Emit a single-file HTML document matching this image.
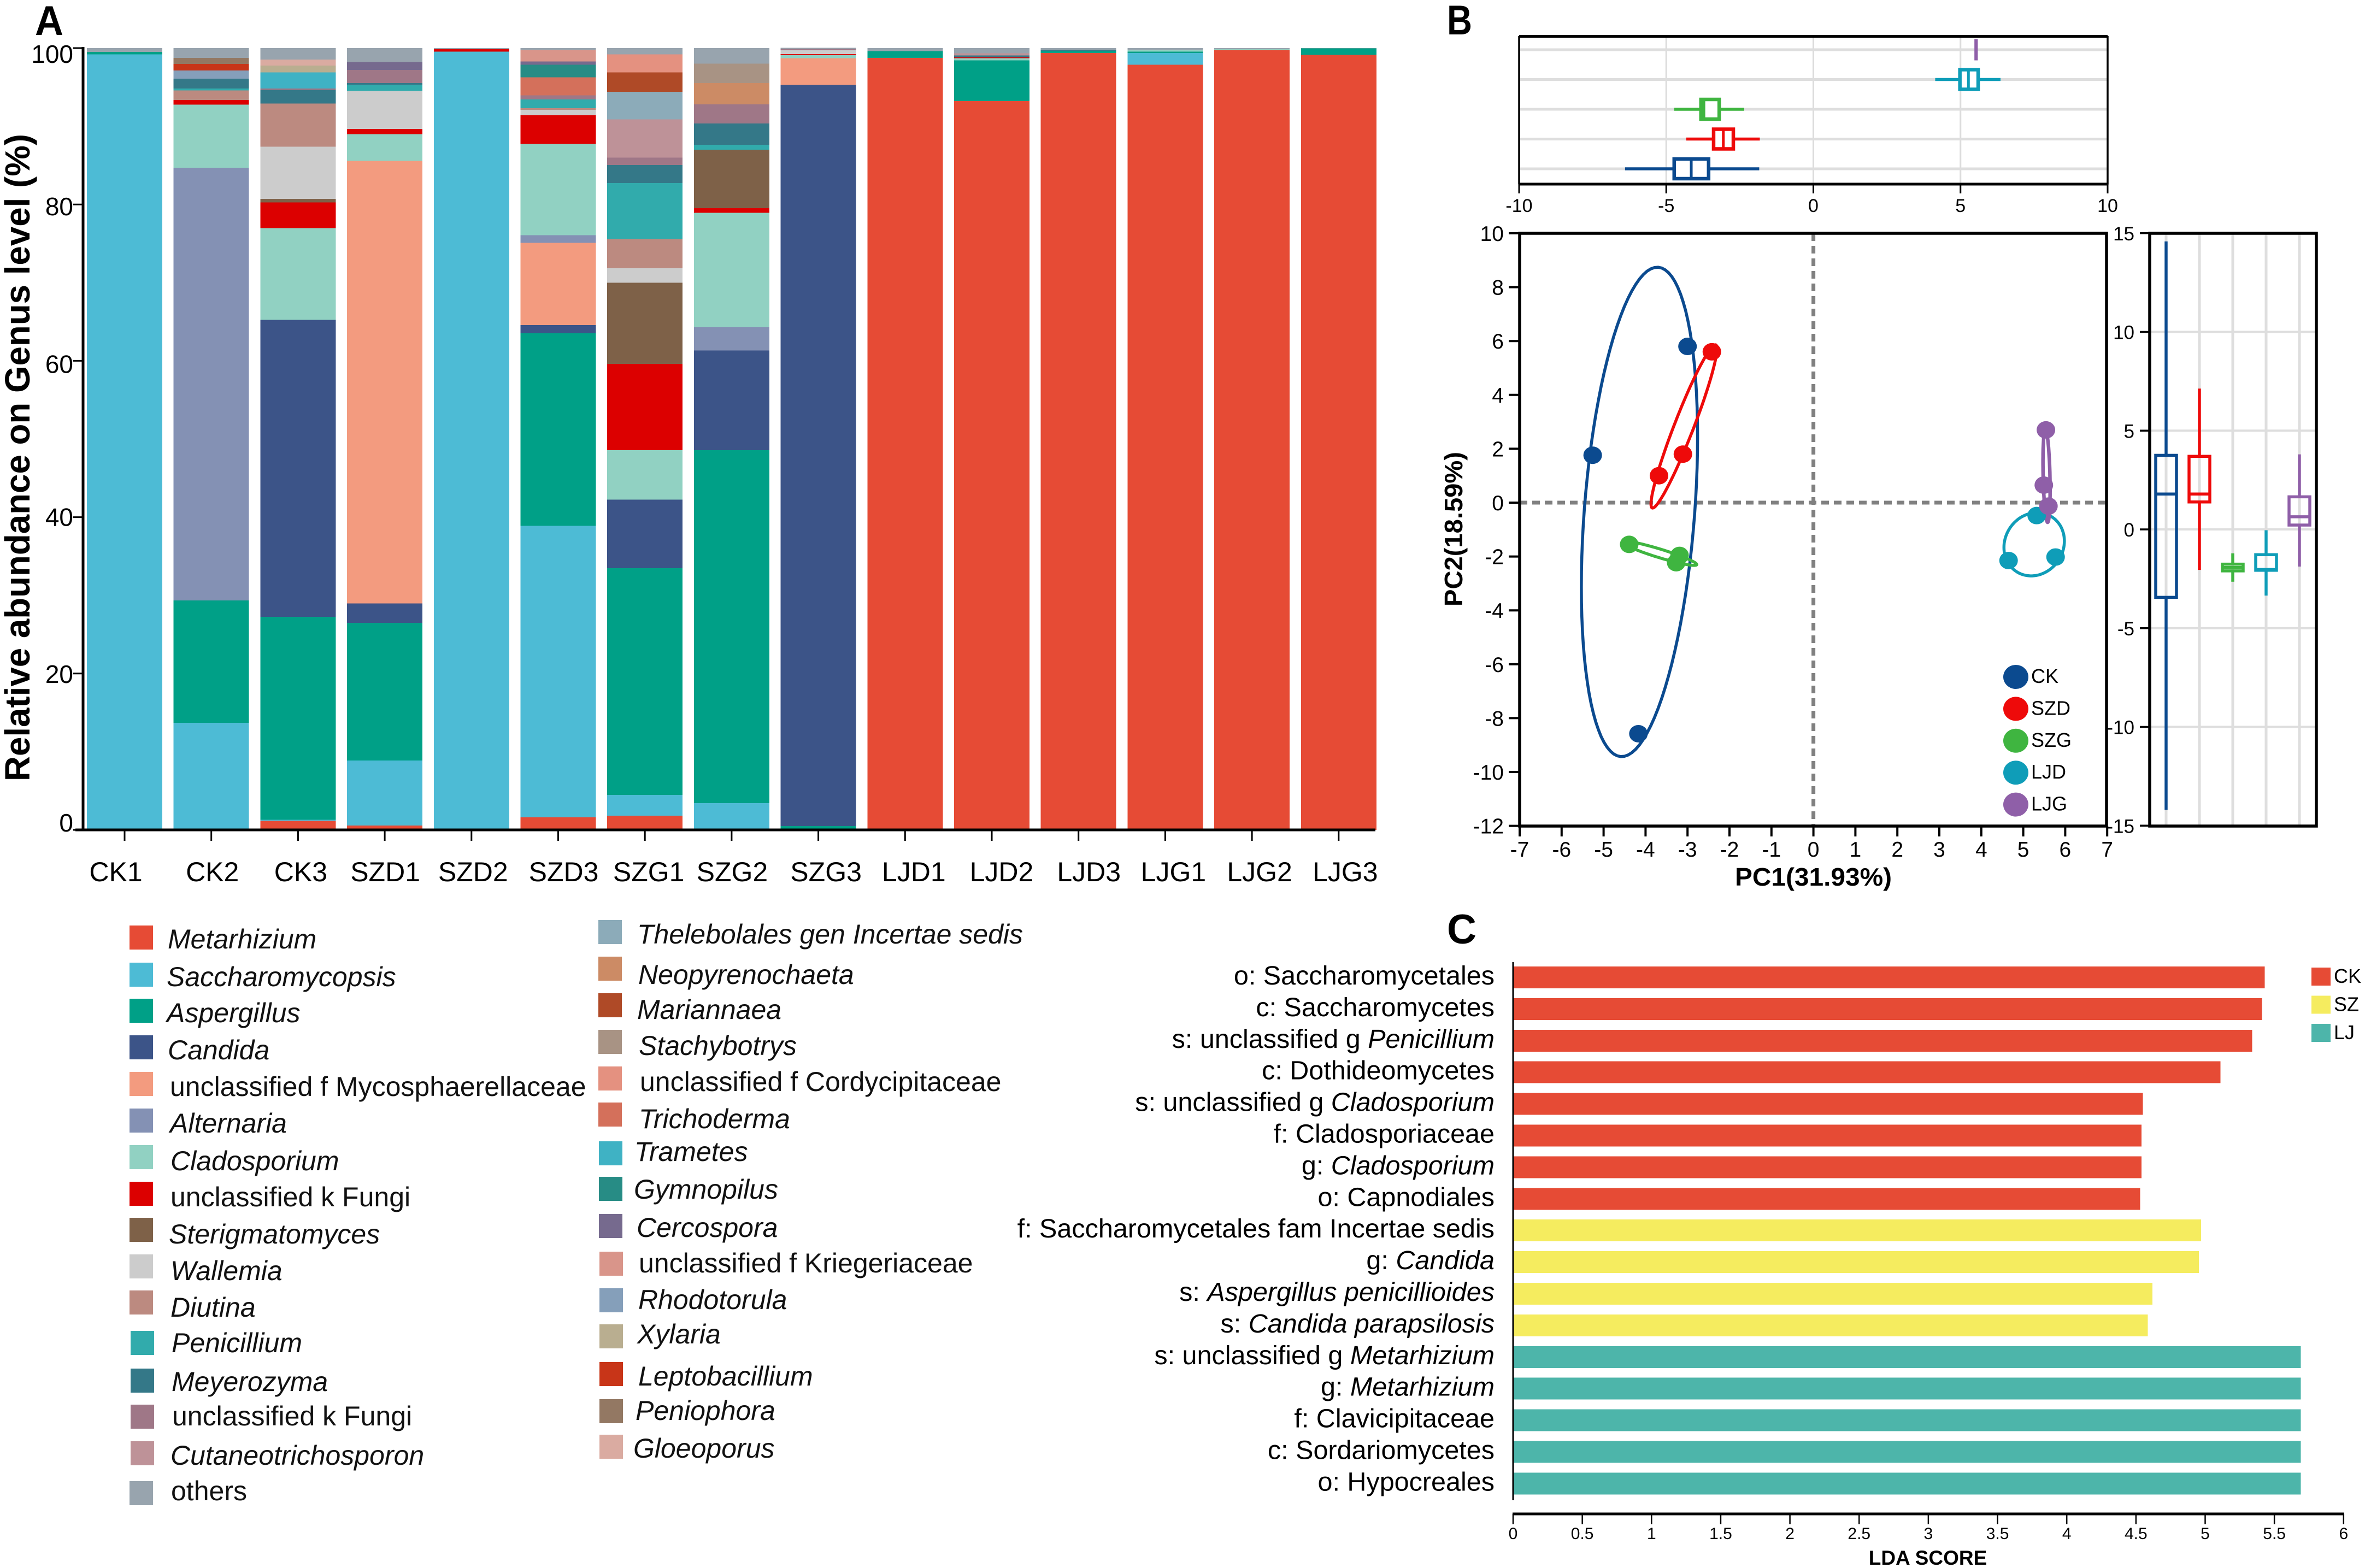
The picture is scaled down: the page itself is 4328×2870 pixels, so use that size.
<!DOCTYPE html>
<html lang="en">
<head>
<meta charset="utf-8">
<title>Fungal community composition, PCA and LDA</title>
<style>
html,body{margin:0;padding:0;background:#fff;}
svg{display:block;font-family:"Liberation Sans",sans-serif;}
.bar{shape-rendering:crispEdges;}
.lg{font-size:50px;fill:#111;}
.it{font-style:italic;}
</style>
</head>
<body>
<svg id="figure" xmlns="http://www.w3.org/2000/svg" width="4328" height="2870" viewBox="0 0 4328 2870">
<rect x="0" y="0" width="4328" height="2870" fill="#ffffff"/>
<text x="64" y="64" font-size="76" font-weight="bold" textLength="52" lengthAdjust="spacingAndGlyphs">A</text>
<text x="2648" y="63" font-size="76" font-weight="bold" textLength="46" lengthAdjust="spacingAndGlyphs">B</text>
<text x="2648" y="1727" font-size="76" font-weight="bold" textLength="54" lengthAdjust="spacingAndGlyphs">C</text>

<g id="panelA"></g>
<text transform="translate(54,1430) rotate(-90)" font-size="64" font-weight="bold" textLength="1185" lengthAdjust="spacingAndGlyphs">Relative abundance on Genus level (%)</text>

<g>
<g><rect x="237" y="1694" width="43" height="44" fill="#E64B35"/><text class="lg it" x="307" y="1736">Metarhizium</text></g>
<g><rect x="237" y="1762" width="43" height="44" fill="#4DBBD5"/><text class="lg it" x="305" y="1805">Saccharomycopsis</text></g>
<g><rect x="237" y="1828" width="43" height="44" fill="#00A087"/><text class="lg it" x="305" y="1871">Aspergillus</text></g>
<g><rect x="237" y="1895" width="43" height="44" fill="#3C5488"/><text class="lg it" x="307" y="1939">Candida</text></g>
<g><rect x="237" y="1962" width="43" height="44" fill="#F39B7F"/><text class="lg" x="311" y="2006">unclassified f Mycosphaerellaceae</text></g>
<g><rect x="237" y="2029" width="43" height="44" fill="#8491B4"/><text class="lg it" x="311" y="2073">Alternaria</text></g>
<g><rect x="237" y="2096" width="43" height="44" fill="#91D1C2"/><text class="lg it" x="312" y="2142">Cladosporium</text></g>
<g><rect x="237" y="2163" width="43" height="44" fill="#DC0000"/><text class="lg" x="312" y="2208">unclassified k Fungi</text></g>
<g><rect x="237" y="2229" width="43" height="44" fill="#7E6148"/><text class="lg it" x="309" y="2276">Sterigmatomyces</text></g>
<g><rect x="237" y="2296" width="43" height="44" fill="#CCCCCC"/><text class="lg it" x="312" y="2343">Wallemia</text></g>
<g><rect x="237" y="2362" width="43" height="44" fill="#BC8A80"/><text class="lg it" x="312" y="2410">Diutina</text></g>
<g><rect x="239" y="2436" width="43" height="44" fill="#31ABAC"/><text class="lg it" x="314" y="2475">Penicillium</text></g>
<g><rect x="239" y="2505" width="43" height="44" fill="#347888"/><text class="lg it" x="314" y="2546">Meyerozyma</text></g>
<g><rect x="239" y="2571" width="43" height="44" fill="#9F7787"/><text class="lg" x="315" y="2609">unclassified k Fungi</text></g>
<g><rect x="239" y="2638" width="43" height="44" fill="#BE9298"/><text class="lg it" x="312" y="2681">Cutaneotrichosporon</text></g>
<g><rect x="237" y="2711" width="43" height="44" fill="#98A4AE"/><text class="lg" x="313" y="2746">others</text></g>

<g><rect x="1095" y="1684" width="43" height="44" fill="#8CABB9"/><text class="lg it" x="1166" y="1727">Thelebolales gen Incertae sedis</text></g>
<g><rect x="1095" y="1751" width="43" height="44" fill="#CC8B65"/><text class="lg it" x="1168" y="1801">Neopyrenochaeta</text></g>
<g><rect x="1095" y="1818" width="43" height="44" fill="#AF4A27"/><text class="lg it" x="1166" y="1865">Mariannaea</text></g>
<g><rect x="1095" y="1885" width="43" height="44" fill="#A89384"/><text class="lg it" x="1169" y="1931">Stachybotrys</text></g>
<g><rect x="1095" y="1952" width="43" height="44" fill="#E49180"/><text class="lg" x="1171" y="1997">unclassified f Cordycipitaceae</text></g>
<g><rect x="1095" y="2018" width="43" height="44" fill="#D4705B"/><text class="lg it" x="1169" y="2065">Trichoderma</text></g>
<g><rect x="1096" y="2089" width="43" height="44" fill="#3FB2C4"/><text class="lg it" x="1161" y="2125">Trametes</text></g>
<g><rect x="1096" y="2154" width="43" height="44" fill="#278C85"/><text class="lg it" x="1160" y="2194">Gymnopilus</text></g>
<g><rect x="1096" y="2222" width="43" height="44" fill="#766A8E"/><text class="lg it" x="1165" y="2264">Cercospora</text></g>
<g><rect x="1097" y="2291" width="43" height="44" fill="#D9958A"/><text class="lg" x="1169" y="2329">unclassified f Kriegeriaceae</text></g>
<g><rect x="1097" y="2358" width="43" height="44" fill="#859FBA"/><text class="lg it" x="1168" y="2396">Rhodotorula</text></g>
<g><rect x="1097" y="2424" width="43" height="44" fill="#B9AE90"/><text class="lg it" x="1166" y="2459">Xylaria</text></g>
<g><rect x="1097" y="2493" width="43" height="44" fill="#C83518"/><text class="lg it" x="1168" y="2536">Leptobacillium</text></g>
<g><rect x="1097" y="2561" width="43" height="44" fill="#937863"/><text class="lg it" x="1163" y="2599">Peniophora</text></g>
<g><rect x="1097" y="2626" width="43" height="44" fill="#DAABA1"/><text class="lg it" x="1159" y="2668">Gloeoporus</text></g>
</g>

<g id="panelBTop"></g>
<g id="panelBMain"></g>
<g id="panelBRight"></g>
<text x="3175" y="1621" font-size="46" font-weight="bold" textLength="287" lengthAdjust="spacingAndGlyphs">PC1(31.93%)</text>
<text transform="translate(2676,1110) rotate(-90)" font-size="46" font-weight="bold" textLength="283" lengthAdjust="spacingAndGlyphs">PC2(18.59%)</text>

<g id="panelC"></g>
<text x="3528" y="2864" font-size="37" font-weight="bold" text-anchor="middle">LDA SCORE</text>
</svg>

<script>
// ---------- Panel A data ----------
const categories = ["CK1","CK2","CK3","SZD1","SZD2","SZD3","SZG1","SZG2","SZG3","LJD1","LJD2","LJD3","LJG1","LJG2","LJG3"];
const abundanceTicks = [0,20,40,60,80,100];
const metarhizium      = [0,0,1.14,.57,0,1.59,1.82,0,0,98.75,93.23,99.36,97.86,99.75,99.14];
const saccharomycopsis = [99.2,13.7,.15,8.29,99.55,37.31,2.65,3.41,0,0,0,0,1.5,0,0];
const aspergillus      = [.3,15.65,25.98,17.62,0,24.63,29.01,45.15,.5,.85,5.2,.24,.18,0,.82];
const candida          = [0,0,37.97,2.5,0,1.03,8.75,12.76,94.8,0,0,0,0,0,0];
const mycosphaerellaceae = [0,0,0,56.58,0,10.52,0,0,3.39,0,0,0,0,0,0];
const alternaria       = [0,55.35,0,0,0,1,0,2.98,0,0,0,0,0,0,0];
const cladosporium     = [0,8.06,11.73,3.42,0,11.66,6.33,14.63,.39,0,.29,0,.21,.1,0];
const unclassifiedFungi = [0,.61,3.28,.68,.3,3.67,11.04,.61,.15,0,.1,0,0,0,0];
const sterigmatomyces  = [0,0,.46,0,0,0,10.38,7.45,0,0,0,0,0,0,0];
const wallemia         = [0,0,6.67,4.85,0,.71,1.86,0,.5,0,0,0,0,0,0];
const diutina          = [0,1.23,5.52,0,0,.18,3.74,0,0,0,0,0,0,0,0];
const penicillium      = [0,.23,0,.82,0,1.14,7.17,.64,0,0,0,0,0,0,0];
const meyerozyma       = [0,1.27,1.75,.21,0,0,2.31,2.71,0,0,.25,.15,0,0,0];
const unclassifiedFungi2 = [0,0,.18,1.68,0,.5,.93,2.46,.15,0,0,0,0,0,0];
const cutaneotrichosporon = [0,0,0,0,0,0,4.88,0,0,0,.25,0,0,0,0];
const thelebolales     = [0,0,0,0,0,0,3.53,0,0,0,0,0,0,0,0];
const neopyrenochaeta  = [0,0,0,0,0,0,0,2.74,0,0,0,0,0,0,0];
const mariannaea       = [0,0,0,0,0,0,2.5,0,0,0,0,0,0,0,0];
const stachybotrys     = [0,0,0,0,0,0,0,2.46,0,0,0,0,0,0,0];
const cordycipitaceae  = [0,0,0,0,0,0,2.28,0,0,0,0,0,0,0,0];
const trichoderma      = [0,0,0,0,0,2.32,0,0,0,0,0,0,0,0,0];
const trametes         = [0,0,2.07,0,0,0,0,0,0,0,0,0,0,0,0];
const gymnopilus       = [0,0,0,0,0,1.6,0,0,0,0,0,0,0,0,0];
const cercospora       = [0,0,0,1,0,.43,0,0,0,0,0,0,0,0,0];
const kriegeriaceae    = [0,0,0,0,0,1.46,0,0,0,0,0,0,0,0,0];
const rhodotorula      = [0,1.05,0,0,0,0,0,0,0,0,0,0,0,0,0];
const xylaria          = [0,0,.85,0,0,0,0,0,0,0,0,0,0,0,0];
const leptobacillium   = [0,.82,0,0,0,0,0,0,0,0,0,0,0,0,0];
const peniophora       = [0,.78,0,0,0,0,0,0,0,0,0,0,0,0,0];
const gloeoporus       = [0,0,.79,0,0,0,0,0,0,0,0,0,0,0,0];
const others           = [.5,1.25,1.46,1.78,.15,.25,.82,2,.15,.4,.68,.25,.25,.15,.04];

// ---------- Panel B data ----------
const groups = ["CK","SZD","SZG","LJD","LJG"];
const pc1Ticks = [-7,-6,-5,-4,-3,-2,-1,0,1,2,3,4,5,6,7];
const pc2Ticks = [10,8,6,4,2,0,-2,-4,-6,-8,-10,-12];
const marginalPc1Ticks = [-10,-5,0,5,10];
const marginalPc2Ticks = [15,10,5,0,-5,-10,-15];
const pcaCkX  = [-3.0,-5.26,-4.17];
const pcaCkY  = [5.8,1.76,-8.58];
const pcaSzdX = [-2.42,-3.11,-3.68];
const pcaSzdY = [5.6,1.8,1.0];
const pcaSzgX = [-4.39,-3.19,-3.27];
const pcaSzgY = [-1.55,-1.96,-2.23];
const pcaLjdX = [5.32,4.65,5.77];
const pcaLjdY = [-.48,-2.15,-2.02];
const pcaLjgX = [5.54,5.49,5.6];
const pcaLjgY = [2.7,.65,-.13];
// confidence ellipse: centre x, centre y, half-extent x, half-extent y, correlation
const ellipseCk  = [-4.145,-.345,1.385,9.085,.307];
const ellipseSzd = [-3.085,2.83,.785,3.03,.95];
const ellipseSzg = [-3.67,-1.88,.89,.45,-.93];
const ellipseLjd = [5.26,-1.545,.72,1.175,.1];
const ellipseLjg = [5.555,.985,.085,1.715,-.3];
// PC1 marginal box plot
const pc1WhiskerLow  = [-6.4,-4.32,-4.73,4.14,5.48];
const pc1Q1          = [-4.73,-3.39,-3.82,4.98,5.5];
const pc1Median      = [-4.15,-3.06,-3.72,5.27,5.53];
const pc1Q3          = [-3.56,-2.72,-3.2,5.6,5.56];
const pc1WhiskerHigh = [-1.84,-1.82,-2.35,6.36,5.58];
// PC2 marginal box plot
const pc2WhiskerLow  = [-14.2,-2.05,-2.65,-3.35,-1.88];
const pc2Q1          = [-3.44,1.39,-2.1,-2.07,.22];
const pc2Median      = [1.79,1.79,-1.93,-2.03,.64];
const pc2Q3          = [3.75,3.7,-1.76,-1.28,1.65];
const pc2WhiskerHigh = [14.58,7.13,-1.21,-.04,3.8];

// ---------- Panel C data ----------
const ldaTicks = [0,.5,1,1.5,2,2.5,3,3.5,4,4.5,5,5.5,6];
const ldaGroups = ["CK","SZ","LJ"];
const ldaPlainText = ["o: Saccharomycetales","c: Saccharomycetes","s: unclassified g ","c: Dothideomycetes","s: unclassified g ","f: Cladosporiaceae","g: ","o: Capnodiales","f: Saccharomycetales fam Incertae sedis","g: ","s: ","s: ","s: unclassified g ","g: ","f: Clavicipitaceae","c: Sordariomycetes","o: Hypocreales"];
const ldaItalicText = ["","","Penicillium","","Cladosporium","","Cladosporium","","","Candida","Aspergillus penicillioides","Candida parapsilosis","Metarhizium","Metarhizium","","",""];
const ldaCk = [5.43,5.41,5.34,5.11,4.55,4.54,4.54,4.53];
const ldaSz = [4.97,4.955,4.62,4.586];
const ldaLj = [5.69,5.69,5.69,5.69,5.69];

// ---------- Styling, kept apart from the data ----------
const stackOrder = [metarhizium,saccharomycopsis,aspergillus,candida,mycosphaerellaceae,alternaria,cladosporium,unclassifiedFungi,sterigmatomyces,wallemia,diutina,penicillium,meyerozyma,unclassifiedFungi2,cutaneotrichosporon,thelebolales,neopyrenochaeta,mariannaea,stachybotrys,cordycipitaceae,trichoderma,trametes,gymnopilus,cercospora,kriegeriaceae,rhodotorula,xylaria,leptobacillium,peniophora,gloeoporus,others];
const stackNames = ["metarhizium","saccharomycopsis","aspergillus","candida","mycosphaerellaceae","alternaria","cladosporium","unclassified-fungi","sterigmatomyces","wallemia","diutina","penicillium","meyerozyma","unclassified-fungi-2","cutaneotrichosporon","thelebolales","neopyrenochaeta","mariannaea","stachybotrys","cordycipitaceae","trichoderma","trametes","gymnopilus","cercospora","kriegeriaceae","rhodotorula","xylaria","leptobacillium","peniophora","gloeoporus","others"];
const stackColors = ["#E64B35","#4DBBD5","#00A087","#3C5488","#F39B7F","#8491B4","#91D1C2","#DC0000","#7E6148","#CCCCCC","#BC8A80","#31ABAC","#347888","#9F7787","#BE9298","#8CABB9","#CC8B65","#AF4A27","#A89384","#E49180","#D4705B","#3FB2C4","#278C85","#766A8E","#D9958A","#859FBA","#B9AE90","#C83518","#937863","#DAABA1","#98A4AE"];
const groupColors = ["#0B4A8F","#EE0A0A","#3FB540","#0F9DB8","#8F5FA8"];
const ldaColors = ["#E64B35","#F5EC5F","#4DB5AA"];

const NS = "http://www.w3.org/2000/svg";
function mk(parent, tag, attrs, text) {
  const el = document.createElementNS(NS, tag);
  for (const k in attrs) el.setAttribute(k, attrs[k]);
  if (text !== undefined) el.textContent = text;
  parent.appendChild(el);
  return el;
}
function slug(s) { return String(s).toLowerCase().replace(/[^a-z0-9]+/g, "-"); }

// ---------- Panel A ----------
(function () {
  const g = document.getElementById("panelA");
  const yA = v => 1519 - 14.31 * v;
  const bandLeft = i => 159 + 158.7 * i;
  const bandWidth = 138;
  const labelNudge = [-16,2,5,1,3,10,7,1,14,16,18,19,15,14,12];
  const yTickNudge = {0:-14,20:0,40:-1,60:5,80:3,100:10};

  categories.forEach((cat, i) => {
    let cum = 0;
    stackOrder.forEach((series, s) => {
      const v = series[i];
      if (!v) return;
      const r = mk(g, "rect", {class:"bar", x:bandLeft(i), y:yA(cum + v), width:bandWidth, height:14.31 * v, fill:stackColors[s]});
      
      
      cum += v;
    });
    const cx = bandLeft(i) + bandWidth / 2;
    const t = mk(g, "line", {x1:cx, x2:cx, y1:1521, y2:1539, stroke:"#000", "stroke-width":3});
    
    
    const l = mk(g, "text", {x:cx + labelNudge[i], y:1613, "font-size":50, "text-anchor":"middle"}, cat);
    
    
  });
  const ya = mk(g, "line", {x1:152, x2:152, y1:86, y2:1521, stroke:"#000", "stroke-width":5});
  
  
  const xa = mk(g, "line", {x1:138, x2:2517, y1:1519, y2:1519, stroke:"#000", "stroke-width":5});
  
  
  abundanceTicks.forEach(v => {
    const t = mk(g, "line", {x1:134, x2:152, y1:yA(v), y2:yA(v), stroke:"#000", "stroke-width":3});
    
    
    const l = mk(g, "text", {x:134, y:yA(v) + yTickNudge[v] + 17, "font-size":46, "text-anchor":"end"}, v);
    
    
  });
})();

// ---------- Panel B main scatter ----------
(function () {
  const g = document.getElementById("panelBMain");
  const xP = v => 3318.6 + 76.8 * v;
  const yP = v => 920 - 49.3 * v;
  const hz = mk(g, "line", {x1:2781, x2:3855, y1:yP(0), y2:yP(0), stroke:"#808080", "stroke-width":7, "stroke-dasharray":"14 9"});
  
  
  const vt = mk(g, "line", {x1:xP(0), x2:xP(0), y1:427, y2:1512, stroke:"#808080", "stroke-width":7, "stroke-dasharray":"14 9"});
  
  

  const xs = [pcaCkX,pcaSzdX,pcaSzgX,pcaLjdX,pcaLjgX];
  const ys = [pcaCkY,pcaSzdY,pcaSzgY,pcaLjdY,pcaLjgY];
  const ells = [ellipseCk,ellipseSzd,ellipseSzg,ellipseLjd,ellipseLjg];
  groups.forEach((name, i) => {
    const [cx, cy, rx, ry, rho] = ells[i];
    const q = Math.sqrt(1 - rho * rho);
    let d = "";
    for (let k = 0; k <= 96; k++) {
      const a = k / 96 * 2 * Math.PI;
      const px = cx + rx * Math.cos(a);
      const py = cy + ry * (rho * Math.cos(a) + q * Math.sin(a));
      d += (k ? "L" : "M") + xP(px).toFixed(1) + " " + yP(py).toFixed(1);
    }
    const p = mk(g, "path", {d:d + "Z", fill:"none", stroke:groupColors[i], "stroke-width":i === 4 ? 6.5 : 5.5});
    
    
  });
  groups.forEach((name, i) => {
    xs[i].forEach((x, j) => {
      const c = mk(g, "ellipse", {cx:xP(x), cy:yP(ys[i][j]), rx:17, ry:16, fill:groupColors[i]});
      
      
    });
  });
  const f = mk(g, "rect", {x:2781, y:427, width:1074, height:1085, fill:"none", stroke:"#000", "stroke-width":5.5});
  
  
  pc1Ticks.forEach(v => {
    const t = mk(g, "line", {x1:xP(v), x2:xP(v), y1:1512, y2:1531, stroke:"#000", "stroke-width":4});
    
    
    const l = mk(g, "text", {x:xP(v), y:1568, "font-size":39, "text-anchor":"middle"}, v);
    
    
  });
  pc2Ticks.forEach(v => {
    const t = mk(g, "line", {x1:2761, x2:2781, y1:yP(v), y2:yP(v), stroke:"#000", "stroke-width":4});
    
    
    const l = mk(g, "text", {x:2752, y:yP(v) + 14, "font-size":39, "text-anchor":"end"}, v);
    
    
  });
  groups.forEach((name, i) => {
    const y = 1239 + 58.4 * i;
    const c = mk(g, "ellipse", {cx:3689, cy:y, rx:23, ry:22, fill:groupColors[i]});
    
    
    const l = mk(g, "text", {x:3717, y:y + 11, "font-size":36}, name);
    
    
  });
})();

// ---------- Panel B top marginal ----------
(function () {
  const g = document.getElementById("panelBTop");
  const xT = v => 3318.5 + 53.85 * v;
  const rowY = i => 309 - 54.5 * i;
  [-5,0,5].forEach(v => {
    const l = mk(g, "line", {x1:xT(v), x2:xT(v), y1:67, y2:337, stroke:"#dcdcdc", "stroke-width":3});
    
    
  });
  groups.forEach((name, i) => {
    const y = rowY(i);
    const gl = mk(g, "line", {x1:2782, x2:3856, y1:y, y2:y, stroke:"#dedede", "stroke-width":5});
    
    
  });
  groups.forEach((name, i) => {
    const y = rowY(i), col = groupColors[i];
    const w1 = mk(g, "line", {x1:xT(pc1WhiskerLow[i]), x2:xT(pc1Q1[i]), y1:y, y2:y, stroke:col, "stroke-width":5.5});
    
    
    const w2 = mk(g, "line", {x1:xT(pc1Q3[i]), x2:xT(pc1WhiskerHigh[i]), y1:y, y2:y, stroke:col, "stroke-width":5.5});
    
    
    const b = mk(g, "rect", {x:xT(pc1Q1[i]), y:y - 18, width:xT(pc1Q3[i]) - xT(pc1Q1[i]), height:36, fill:"#fff", stroke:col, "stroke-width":i === 4 ? 3 : 6.5});
    
    
    const m = mk(g, "line", {x1:xT(pc1Median[i]), x2:xT(pc1Median[i]), y1:y - 18, y2:y + 18, stroke:col, "stroke-width":5});
    
    
  });
  const t = mk(g, "line", {x1:2780, x2:3857, y1:66.5, y2:66.5, stroke:"#000", "stroke-width":5});
  
  
  const bo = mk(g, "line", {x1:2780, x2:3857, y1:337, y2:337, stroke:"#000", "stroke-width":5});
  
  
  const le = mk(g, "line", {x1:2780, x2:2780, y1:66, y2:338, stroke:"#000", "stroke-width":3.5});
  
  
  const ri = mk(g, "line", {x1:3857, x2:3857, y1:66, y2:338, stroke:"#000", "stroke-width":3.5});
  
  
  marginalPc1Ticks.forEach(v => {
    const tk = mk(g, "line", {x1:xT(v), x2:xT(v), y1:339, y2:354, stroke:"#000", "stroke-width":3});
    
    
    const l = mk(g, "text", {x:xT(v), y:388, "font-size":34, "text-anchor":"middle"}, v);
    
    
  });
})();

// ---------- Panel B right marginal ----------
(function () {
  const g = document.getElementById("panelBRight");
  const yR = v => 969 - 36.15 * v;
  const colX = i => 3964 + 61 * i;
  marginalPc2Ticks.forEach(v => {
    if (Math.abs(v) === 15) return;
    const gl = mk(g, "line", {x1:3934, x2:4239, y1:yR(v), y2:yR(v), stroke:"#dedede", "stroke-width":4});
    
    
  });
  groups.forEach((name, i) => {
    const gl = mk(g, "line", {x1:colX(i), x2:colX(i), y1:429, y2:1510, stroke:"#dedede", "stroke-width":5});
    
    
  });
  groups.forEach((name, i) => {
    const x = colX(i), col = groupColors[i];
    const w1 = mk(g, "line", {x1:x, x2:x, y1:yR(pc2WhiskerHigh[i]), y2:yR(pc2Q3[i]), stroke:col, "stroke-width":5.5});
    
    
    const w2 = mk(g, "line", {x1:x, x2:x, y1:yR(pc2Q1[i]), y2:yR(pc2WhiskerLow[i]), stroke:col, "stroke-width":5.5});
    
    
    const b = mk(g, "rect", {x:x - 19, y:yR(pc2Q3[i]), width:38, height:yR(pc2Q1[i]) - yR(pc2Q3[i]), fill:"none", stroke:col, "stroke-width":5.5});
    
    
    const m = mk(g, "line", {x1:x - 19, x2:x + 19, y1:yR(pc2Median[i]), y2:yR(pc2Median[i]), stroke:col, "stroke-width":5.5});
    
    
  });
  const f = mk(g, "rect", {x:3934, y:427, width:305, height:1085, fill:"none", stroke:"#000", "stroke-width":5.5});
  
  
  marginalPc2Ticks.forEach(v => {
    const tk = mk(g, "line", {x1:3916, x2:3934, y1:yR(v), y2:yR(v), stroke:"#000", "stroke-width":3.5});
    
    
    const l = mk(g, "text", {x:3906, y:yR(v) + 13, "font-size":35, "text-anchor":"end"}, v);
    
    
  });
})();

// ---------- Panel C ----------
(function () {
  const g = document.getElementById("panelC");
  const xL = v => 2769 + 253.3 * v;
  const rowTop = i => 1769 + 57.9 * i;
  const barH = 40;
  const seriesSets = [ldaCk, ldaSz, ldaLj];
  let idx = 0;
  seriesSets.forEach((vals, s) => {
    vals.forEach(v => {
      const i = idx++;
      const r = mk(g, "rect", {class:"bar", x:xL(0), y:rowTop(i), width:xL(v) - xL(0), height:barH, fill:ldaColors[s]});
      
      
      const t = mk(g, "text", {x:2735, y:rowTop(i) + barH / 2 + 13, "font-size":48.5, "text-anchor":"end"});
      
      
      const plain = mk(t, "tspan", {}, ldaPlainText[i]);
      plain.setAttribute('xml:space', 'preserve');
      if (ldaItalicText[i]) mk(t, "tspan", {"font-style":"italic"}, ldaItalicText[i]);
    });
  });
  const ya = mk(g, "line", {x1:xL(0), x2:xL(0), y1:1761, y2:2746, stroke:"#000", "stroke-width":3});
  
  
  const xa = mk(g, "line", {x1:xL(0) - 1, x2:xL(6) + 1, y1:2771, y2:2771, stroke:"#000", "stroke-width":5});
  
  
  ldaTicks.forEach(v => {
    const tk = mk(g, "line", {x1:xL(v), x2:xL(v), y1:2771, y2:2790, stroke:"#000", "stroke-width":2.5});
    
    
    const l = mk(g, "text", {x:xL(v), y:2817, "font-size":30, "text-anchor":"middle"}, v);
    
    
  });
  ldaGroups.forEach((name, i) => {
    const top = 1771 + 51.5 * i;
    const r = mk(g, "rect", {class:"bar", x:4230, y:top, width:35, height:33, fill:ldaColors[i]});
    
    
    const l = mk(g, "text", {x:4271, y:top + 28, "font-size":36}, name);
    
    
  });
})();
</script>
</body>
</html>
